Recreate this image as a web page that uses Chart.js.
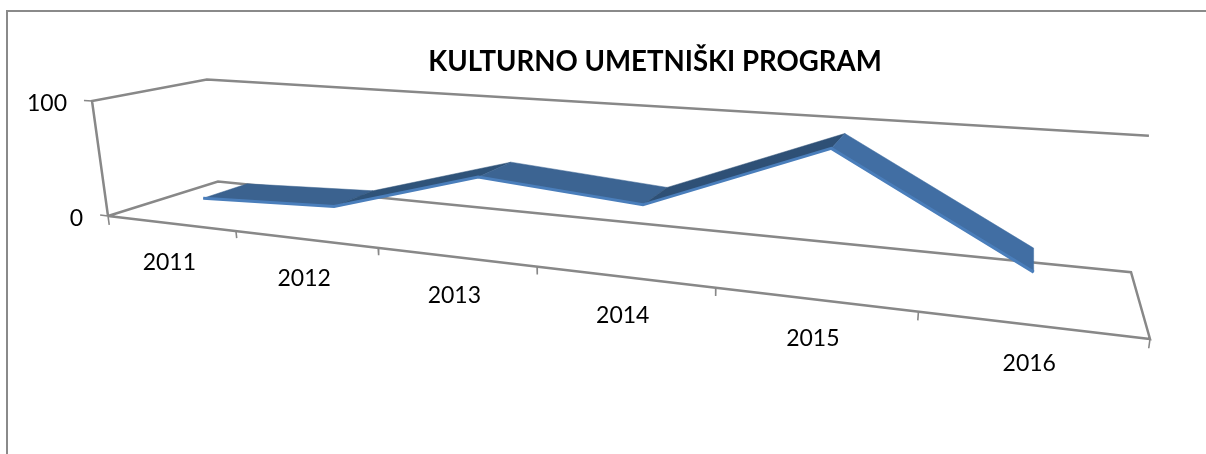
<!DOCTYPE html>
<html><head><meta charset="utf-8">
<style>
html,body{margin:0;padding:0;background:#fff;overflow:hidden}
#wrap{position:absolute;left:0;top:0;width:1206px;height:454px}
#frame{position:absolute;left:6px;top:10px;right:-4px;bottom:-4px;border:2px solid #8a8a8a;box-sizing:border-box}
canvas{position:absolute;left:0;top:0}
</style>
<script src="https://cdn.jsdelivr.net/npm/chart.js@4"></script>
</head><body>
<div id="wrap"><div id="frame"></div><canvas id="c" width="1206" height="454"></canvas></div>
<script>
const chartTitle = 'KULTURNO UMETNIŠKI PROGRAM';
const categories = ['2011','2012','2013','2014','2015','2016'];
const values = [12, 17, 53, 43, 95, 22];
const valueTicks = [0, 100];
const ribbonFront = 0.30, ribbonBack = 0.72;
const ribbonShades = ['#3b628f','#2f5379','#3c6492','#2e5076','#416ea3'];

// Camera of the 3D plot box (plane homography plus vertical vanishing point).
const cam = {a:697,b:139.4,c:108,d:21.3,e:-10,f:216,g:-0.3,h:0.135,vx:638,vy:4030,k:-0.02927/100};
function project(catPos, value, depth){
  const s=(catPos+0.5)/categories.length, t=depth, K=cam.k*value;
  const W=cam.g*s+cam.h*t+1+K;
  return {x:(cam.a*s+cam.b*t+cam.c+K*cam.vx)/W, y:(cam.d*s+cam.e*t+cam.f+K*cam.vy)/W};
}

const last = categories.length-0.5, first=-0.5;
const wallLine = [{x:first,y:0,d:0},{x:first,y:100,d:0},{x:first,y:100,d:1},{x:last,y:100,d:1}];
const floorLine = [{x:first,y:0,d:0},{x:first,y:0,d:1},{x:last,y:0,d:1},{x:last,y:0,d:0},{x:first,y:0,d:0}];
const tickMarks = [];
for(let i=0;i<=categories.length;i++){
  tickMarks.push({x:i-0.5,y:0,d:0},{x:i-0.5,y:i===0?-8:-6,d:0},{x:i-0.5,y:null,d:0});
}
valueTicks.forEach(v=>{
  tickMarks.push({x:first,y:v,d:0},{x:first-0.065,y:v,d:0},{x:first,y:null,d:0});
});

const frameStyle = {borderColor:'#888888',borderWidth:2.5,pointRadius:0,clip:false,tension:0,order:3,fill:false};
const datasets = [
  {label:'wall',data:wallLine,...frameStyle},
  {label:'floor',data:floorLine,...frameStyle},
  {label:'ticks',data:tickMarks,...frameStyle,borderWidth:1.6,spanGaps:false},
  {label:'back',data:values.map((v,i)=>({x:i,y:v,d:ribbonBack})),borderWidth:0,borderColor:'rgba(0,0,0,0)',pointRadius:0,clip:false,order:2,fill:false},
  {label:'Kulturno umetnički program',data:values.map((v,i)=>({x:i,y:v,d:ribbonFront})),borderColor:'#4a7ebb',borderWidth:3,pointRadius:0,clip:false,order:1,fill:false,borderJoinStyle:'miter'}
];

const projector = {
  id:'projector',
  afterDatasetsUpdate(chart){
    chart.data.datasets.forEach((ds,n)=>{
      chart.getDatasetMeta(n).data.forEach((el,i)=>{
        const r=ds.data[i];
        if(r.y===null) return;
        const p=project(r.x,r.y,r.d);
        el.x=p.x; el.y=p.y;
      });
    });
  },
  beforeDatasetDraw(chart,args){
    if(args.index!==4) return;
    const ctx=chart.ctx, f=chart.getDatasetMeta(4).data, b=chart.getDatasetMeta(3).data;
    for(let i=0;i<f.length-1;i++){
      ctx.save();
      ctx.fillStyle=ribbonShades[i];
      ctx.strokeStyle=ribbonShades[i];
      ctx.lineWidth=0.5;
      ctx.beginPath();
      ctx.moveTo(f[i].x,f[i].y);ctx.lineTo(f[i+1].x,f[i+1].y);
      ctx.lineTo(b[i+1].x,b[i+1].y);ctx.lineTo(b[i].x,b[i].y);
      ctx.closePath();ctx.fill();ctx.stroke();
      ctx.restore();
    }
  },
  afterDraw(chart){
    const ctx=chart.ctx;
    ctx.save();
    ctx.fillStyle='#000';
    ctx.font='23px Lato';
    ctx.textAlign='center';ctx.textBaseline='middle';
    categories.forEach((c,i)=>{
      const p=project(i,0,0);
      ctx.fillText(c,p.x-1,p.y+39);
    });
    ctx.textAlign='right';
    valueTicks.forEach(v=>{
      const p=project(first,v,0);
      ctx.fillText(String(v),p.x-25,p.y+3);
    });
    ctx.restore();
  }
};

new Chart(document.getElementById('c'),{
  type:'line',
  data:{datasets},
  options:{
    responsive:false,animation:false,
    layout:{padding:{left:104,top:0}},
    plugins:{
      legend:{display:false},tooltip:{enabled:false},
      title:{display:true,text:chartTitle,color:'#000',fullSize:false,font:{family:'Lato',size:27.6,weight:'bold'},padding:{top:46,bottom:10}}
    },
    scales:{
      x:{type:'linear',display:false,min:-0.5,max:5.5},
      y:{type:'linear',display:false,min:0,max:100}
    }
  },
  plugins:[projector]
});
</script>
</body></html>
